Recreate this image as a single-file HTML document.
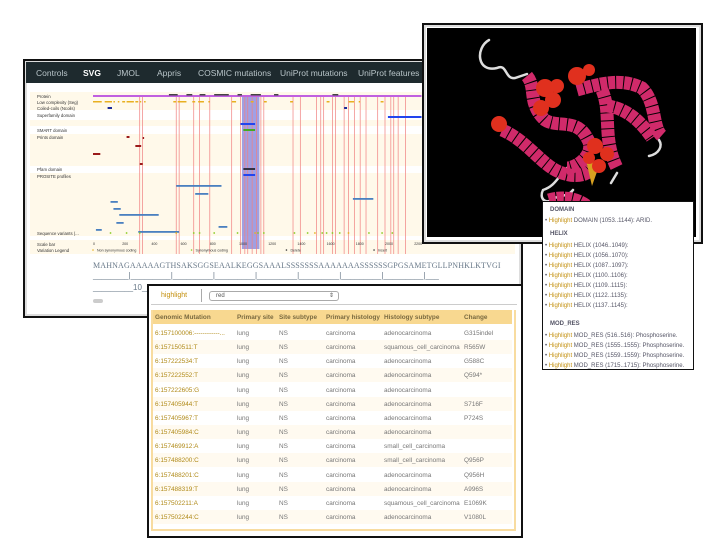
<!DOCTYPE html>
<html><head><meta charset="utf-8"><style>
body{margin:0;width:720px;height:540px;background:#fff;position:relative;overflow:hidden;font-family:"Liberation Sans",sans-serif}
.abs{position:absolute}
.win{position:absolute;border:2px solid #111;background:#fff;box-shadow:inset 0 0 0 2px #ddd}
#nav{left:26px;top:62px;width:492px;height:21px;background:#1e2a2e;color:#b8c4c8;font-size:8.5px}
#nav span{position:absolute;top:6px}
.tbl{font-size:6.4px;color:#777}
.tbl .r{position:absolute}
.tbl .r span{position:absolute;top:4px}
.feat{font-size:6px;color:#556;white-space:nowrap}
.feat li{list-style:none;margin:0;height:10px}
.hl{color:#c4900e}
</style></head><body>
<div class="win" style="left:23px;top:59px;width:496px;height:255px"></div>
<div id="nav" class="abs">
<span style="left:10px">Controls</span>
<span style="left:57px;color:#fff;font-weight:bold">SVG</span>
<span style="left:91px">JMOL</span>
<span style="left:131px">Appris</span>
<span style="left:172px">COSMIC mutations</span>
<span style="left:254px">UniProt mutations</span>
<span style="left:332px">UniProt features</span>
</div>
<svg class="abs" style="left:0;top:0" width="720" height="540" id="trk"></svg>
<div class="abs" style="left:93px;top:261px;font-family:'Liberation Serif',serif;font-size:8px;color:#6a7a8a;letter-spacing:0.15px;white-space:nowrap">MAHNAGAAAAAGTHSAKSGGSEAALKEGGSAAALSSSSSSSAAAAAAASSSSSSGPGSAMETGLLPNHKLKTVGI</div>
<div class="abs" style="left:93px;top:271px;font-size:8px;color:#6a7a8a;white-space:nowrap">________|_________|_________|_________|_________|_________|_________|_________|___</div>
<div class="abs" style="left:93px;top:283px;font-size:8px;color:#6a7a8a;white-space:nowrap">_________10___</div>
<div class="abs" style="left:93px;top:299px;width:10px;height:4px;background:#ccc;border-radius:2px"></div>

<div class="win" style="left:422px;top:23px;width:277px;height:217px"></div>
<svg class="abs" style="left:427px;top:28px" width="269" height="209">
<rect width="269" height="209" fill="#000"/>
<g fill="none" stroke="#ddd" stroke-width="2.5" stroke-linecap="round"><path d="M62 12 C48 20 50 45 70 40 C80 35 78 52 88 50 L100 46"/><path d="M232 112 C236 118 232 126 222 128"/><path d="M140 140 C130 150 128 158 116 162 C112 170 118 176 124 172 C132 166 140 170 146 162"/><path d="M190 145 L184 155"/></g>
<g fill="none" stroke="#d02a6a" stroke-width="13" stroke-dasharray="7 1">
<path d="M100 48 C110 60 100 75 118 92 C130 100 150 90 160 110 C170 125 150 140 140 140"/>
<path d="M150 62 C175 55 195 50 215 60 C230 75 225 100 235 108"/>
<path d="M175 62 C185 85 175 110 190 140"/>
<path d="M75 102 C95 110 110 130 125 140 C140 150 160 150 165 140"/>
<path d="M122 172 C135 168 150 170 160 178"/>
<path d="M180 78 C200 80 215 95 225 110"/>
</g>
<path d="M158 128 L172 138 L165 158Z" fill="#d8a020"/>
<g fill="#e0301e"><circle cx="118" cy="60" r="9"/><circle cx="126" cy="72" r="8"/><circle cx="114" cy="80" r="8"/><circle cx="130" cy="58" r="7"/><circle cx="150" cy="48" r="9"/><circle cx="162" cy="42" r="6"/><circle cx="72" cy="96" r="8"/><circle cx="168" cy="118" r="8"/><circle cx="180" cy="126" r="7"/><circle cx="172" cy="138" r="7"/><circle cx="162" cy="130" r="6"/></g>
</svg>

<div class="win" style="left:542px;top:201px;width:150px;height:167px;box-shadow:none;border-width:1.5px"></div>
<div class="abs feat" style="left:545px;top:207px;width:148px">
<div style="font-weight:bold;margin:0 0 5px 5px">DOMAIN</div>
<div style="margin-bottom:7px">• <span class="hl">Highlight</span> DOMAIN (1053..1144): ARID.</div>
<div style="font-weight:bold;margin:0 0 6px 5px">HELIX</div>
<ul style="margin:0 0 8px;padding:0">
<li>• <span class="hl">Highlight</span> HELIX (1046..1049):</li><li>• <span class="hl">Highlight</span> HELIX (1056..1070):</li><li>• <span class="hl">Highlight</span> HELIX (1087..1097):</li><li>• <span class="hl">Highlight</span> HELIX (1100..1106):</li><li>• <span class="hl">Highlight</span> HELIX (1109..1115):</li><li>• <span class="hl">Highlight</span> HELIX (1122..1135):</li><li>• <span class="hl">Highlight</span> HELIX (1137..1145):</li></ul>
<div style="font-weight:bold;margin:0 0 6px 5px">MOD_RES</div>
<ul style="margin:0;padding:0">
<li>• <span class="hl">Highlight</span> MOD_RES (516..516): Phosphoserine.</li><li>• <span class="hl">Highlight</span> MOD_RES (1555..1555): Phosphoserine.</li><li>• <span class="hl">Highlight</span> MOD_RES (1559..1559): Phosphoserine.</li><li>• <span class="hl">Highlight</span> MOD_RES (1715..1715): Phosphoserine.</li></ul>
</div>

<div class="win tbl" style="left:147px;top:284px;width:372px;height:250px;box-shadow:none"></div>
<div class="abs" style="left:151px;top:288px;width:366px;height:16px;border-bottom:1px solid #ccc">
<span class="abs" style="left:10px;top:4px;font-size:7px;color:#c4900e">highlight</span>
<div class="abs" style="left:50px;top:1px;width:1px;height:13px;background:#aaa"></div>
<div class="abs" style="left:58px;top:3px;width:122px;height:8px;border:1px solid #aaa;border-radius:3px;font-size:6px;color:#555;padding-left:6px;line-height:8px">red<span style="position:absolute;right:4px">⇕</span></div>
</div>
<div class="abs" style="left:151px;top:310px;width:361px;height:219px;border:2px solid #f8dca0;border-top:none"></div>
<div class="tbl abs" id="tbl" style="left:0;top:0"></div>

<script>
const NS="http://www.w3.org/2000/svg",svg=document.getElementById('trk');
function el(t,a,p){const e=document.createElementNS(NS,t);for(const k in a)e.setAttribute(k,a[k]);(p||svg).appendChild(e);return e;}
const x0=93,pxPer=0.146;function sx(aa){return x0+aa*pxPer;}
const trackLabels=["Protein","Low complexity (Seg)","Coiled-coils (Ncoils)","Superfamily domain","SMART domain","Prints domain","Pfam domain","PROSITE profiles","Sequence variants (...","Scale bar","Variation Legend"];
const trackY=[96,102,108,115,130,137,169,176,233,244,250];
const scaleTicks=[0,200,400,600,800,1000,1200,1400,1600,1800,2000,2200];
const lowComplexity=[[0,60],[80,130],[140,150],[170,180],[200,220],[230,280],[290,310],[320,330],[350,360],[550,570],[580,640],[680,700],[720,760],[790,800],[950,980],[1080,1100],[1170,1190],[1350,1370],[1600,1620],[1750,1790],[1820,1830],[1970,1990]];
const protRegions=[[520,580],[640,680],[730,770],[830,930],[990,1020],[1080,1150],[1240,1270],[1640,1680]];
const variantPos=[120,230,320,570,690,730,830,990,1110,1130,1170,1380,1470,1520,1570,1600,1640,1690,1750,1890,1980,2050];
const redLines=[320,340,570,590,690,730,800,950,1010,1040,1060,1090,1120,1150,1170,1370,1420,1530,1560,1580,1640,1660,1720,1750,1790,1830,1870,1950,2000,2040,2060,2090,2140];
const blueBars=[[570,880],[700,790],[120,170],[140,190],[180,450],[160,210],[860,920],[310,590],[20,60],[1780,1920]];
const blueBarY=[185,193,201,208,214,222,226,231,229,198];
el('rect',{x:30,y:92,width:485,height:162,fill:'#fff9ea'});
[[110,120],[126,134],[166,173],[236,240]].forEach(b=>el('rect',{x:30,y:b[0],width:485,height:b[1]-b[0],fill:'#fff'}));
trackLabels.forEach((t,i)=>{const e=el('text',{x:37,y:trackY[i]+2,'font-size':'4.3','fill':'#333','font-family':'Liberation Sans'});e.textContent=t;});
const hb=el('rect',{x:sx(1020),y:96,width:sx(1140)-sx(1020),height:153,fill:'#8080dd',opacity:0.75});
redLines.forEach(v=>{const l=el('line',{x1:sx(v),x2:sx(v),y1:96,y2:254,stroke:'#f08080','stroke-width':0.7});});
el('rect',{x:sx(0),y:95,width:sx(2250)-sx(0),height:2,fill:'#c060e0'});
protRegions.forEach(r=>el('rect',{x:sx(r[0]),y:94,width:sx(r[1])-sx(r[0]),height:1.5,fill:'#444'}));
lowComplexity.forEach(r=>{const e=el('rect',{x:sx(r[0]),y:101,width:Math.max(1.5,sx(r[1])-sx(r[0])),height:1.5,fill:'#e8b020'});});
[[100,130],[1720,1740]].forEach(r=>el('rect',{x:sx(r[0]),y:107,width:sx(r[1])-sx(r[0]),height:2,fill:'#1a2a9a'}));
[[1010,1110]].forEach(r=>el('rect',{x:sx(r[0]),y:123,width:sx(r[1])-sx(r[0]),height:2,fill:'#2244ee'}));
el('rect',{x:sx(2020),y:116,width:sx(2250)-sx(2020),height:2,fill:'#2244ee'});
el('rect',{x:sx(1030),y:129,width:sx(1110)-sx(1030),height:2,fill:'#44aa22'});
[[1030,1110,168,'#334'],[1030,1110,174,'#2244ee']].forEach(r=>el('rect',{x:sx(r[0]),y:r[2],width:sx(r[1])-sx(r[0]),height:2,fill:r[3]}));
[[230,250,136],[340,350,137],[290,330,145],[0,50,153],[320,340,163]].forEach(r=>el('rect',{x:sx(r[0]),y:r[2],width:sx(r[1])-sx(r[0]),height:2,fill:'#9a1a1a'}));
blueBars.forEach((r,i)=>{const e=el('rect',{x:sx(r[0]),y:blueBarY[i],width:sx(r[1])-sx(r[0]),height:1.8,fill:'#4a80c0'});});
variantPos.forEach((v,i)=>{const e=el('circle',{cx:sx(v),cy:233,r:0.9,fill:i%5==3?'#e8b020':'#88cc22'});});
scaleTicks.forEach(t=>{const e=el('text',{x:sx(t),y:245,'font-size':'3.6',fill:'#333','font-family':'Liberation Sans'});e.textContent=t;});
[["Non synonymous coding",0,'#e8b020'],["Synonymous coding",675,'#88cc22'],["Delete",1325,'#333'],["Insert",1925,'#333']].forEach(l=>{el('circle',{cx:sx(l[1]),cy:250,r:0.8,fill:l[2]});const e=el('text',{x:sx(l[1])+4,y:251.5,'font-size':'3.6',fill:'#333','font-family':'Liberation Sans'});e.textContent=l[0];});

const tb=document.getElementById('tbl');
const cols=[155,237,279,326,384,464];
const heads=["Genomic Mutation","Primary site","Site subtype","Primary histology","Histology subtype","Change"];
const rows=[["6:157100006:------------...","lung","NS","carcinoma","adenocarcinoma","G315indel"],["6:157150511:T","lung","NS","carcinoma","squamous_cell_carcinoma","R565W"],["6:157222534:T","lung","NS","carcinoma","adenocarcinoma","G588C"],["6:157222552:T","lung","NS","carcinoma","adenocarcinoma","Q594*"],["6:157222605:G","lung","NS","carcinoma","adenocarcinoma",""],["6:157405944:T","lung","NS","carcinoma","adenocarcinoma","S716F"],["6:157405967:T","lung","NS","carcinoma","adenocarcinoma","P724S"],["6:157405984:C","lung","NS","carcinoma","adenocarcinoma",""],["6:157469912:A","lung","NS","carcinoma","small_cell_carcinoma",""],["6:157488200:C","lung","NS","carcinoma","small_cell_carcinoma","Q956P"],["6:157488201:C","lung","NS","carcinoma","adenocarcinoma","Q956H"],["6:157488319:T","lung","NS","carcinoma","adenocarcinoma","A996S"],["6:157502211:A","lung","NS","carcinoma","squamous_cell_carcinoma","E1069K"],["6:157502244:C","lung","NS","carcinoma","adenocarcinoma","V1080L"]];
function mkRow(cells,top,bg,head){const r=document.createElement('div');r.className='r';r.style.cssText=`left:153px;width:359px;top:${top}px;height:14px;background:${bg}`;


tb.appendChild(r);
cells.forEach((c,i)=>{const s=document.createElement('span');s.textContent=c;s.style.left=(cols[i]-153)+'px';s.style.whiteSpace='nowrap';if(head){s.style.fontWeight='bold';s.style.color='#7a6a40';}else if(i==0)s.style.color='#b08a18';r.appendChild(s);});}
mkRow(heads,310,'#f8d890',true);
rows.forEach((rw,i)=>mkRow(rw,326+i*14.15,i%2?'#fffaf0':'#fff',false));
</script>
</body></html>
